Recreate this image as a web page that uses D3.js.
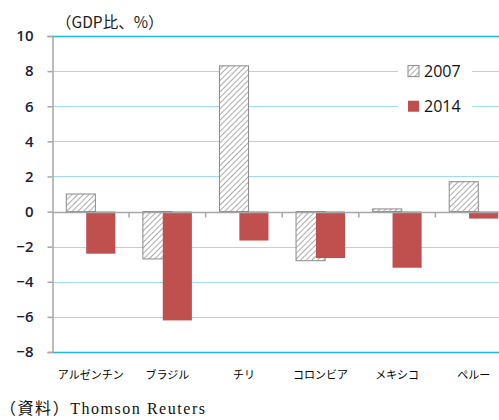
<!DOCTYPE html>
<html>
<head>
<meta charset="utf-8">
<script src="https://cdn.jsdelivr.net/npm/d3@7"></script>
<style>
  body { margin: 0; background: #fff; }
  svg { display: block; }
</style>
</head>
<body>
<svg id="chart" width="499" height="420"></svg>
<script>
var countries = ["アルゼンチン", "ブラジル", "チリ", "コロンビア", "メキシコ", "ペルー"];
var series2007 = [1.0, -2.7, 8.3, -2.8, 0.15, 1.7];
var series2014 = [-2.4, -6.2, -1.65, -2.65, -3.2, -0.4];
var yTicks = [10, 8, 6, 4, 2, 0, -2, -4, -6, -8];
var seriesNames = ["2007", "2014"];

var svg = d3.select("#chart");
var defs = svg.append("defs");

var hatch = defs.append("pattern")
    .attr("id", "hatch")
    .attr("patternUnits", "userSpaceOnUse")
    .attr("width", 4)
    .attr("height", 4)
    .attr("patternTransform", "rotate(45)");
hatch.append("rect").attr("width", 4).attr("height", 4).attr("fill", "#fff");
hatch.append("line")
    .attr("x1", 0).attr("y1", 0).attr("x2", 0).attr("y2", 4)
    .attr("stroke", "#7f7f7f").attr("stroke-width", 1.3);

var plotL = 52.5, plotR = 512, plotT = 36, plotB = 352;

var x = d3.scaleBand().domain(countries).range([plotL, plotR]).padding(0);
var y = d3.scaleLinear().domain([-8, 10]).range([plotB, plotT]);

var bw = x.bandwidth();
var barW = bw * 0.38;
var off = bw * 0.13;

// gridlines
svg.append("g").selectAll("line")
  .data(yTicks.filter(function(d) { return d !== 0; }))
  .enter().append("line")
    .attr("x1", plotL).attr("x2", plotR)
    .attr("y1", function(d) { return Math.round(y(d)) + 0.5; })
    .attr("y2", function(d) { return Math.round(y(d)) + 0.5; })
    .attr("stroke", function(d) { return (d === 10 || d === -8) ? "#1eb4ec" : "#9fdcf4"; })
    .attr("stroke-width", function(d) { return (d === 10 || d === -8) ? 1.6 : 1; });

// bars 2007
svg.append("g").selectAll("rect")
  .data(series2007)
  .enter().append("rect")
    .attr("x", function(d, i) { return x(countries[i]) + bw / 2 - off - barW / 2; })
    .attr("y", function(d) { return y(Math.max(0, d)); })
    .attr("width", barW)
    .attr("height", function(d) { return Math.abs(y(d) - y(0)); })
    .attr("fill", "url(#hatch)")
    .attr("stroke", "#8a8a8a")
    .attr("stroke-width", 1);

// bars 2014
svg.append("g").selectAll("rect")
  .data(series2014)
  .enter().append("rect")
    .attr("x", function(d, i) { return x(countries[i]) + bw / 2 + off - barW / 2; })
    .attr("y", function(d) { return y(Math.max(0, d)); })
    .attr("width", barW)
    .attr("height", function(d) { return Math.abs(y(d) - y(0)); })
    .attr("fill", "#c0504d");

// y axis
var yAxis = svg.append("g")
    .attr("transform", "translate(" + plotL + ",0)")
    .call(d3.axisLeft(y).tickValues(yTicks).tickSize(5).tickPadding(14).tickFormat(d3.format("d")));
yAxis.select(".domain").attr("stroke", "#a6a6a6").attr("stroke-width", 1.5);
yAxis.selectAll(".tick line").attr("stroke", "#a6a6a6").attr("stroke-width", 1.5);
yAxis.selectAll(".tick text")
    .attr("fill", "#1c1c3c")
    .style("font-family", "'Open Sans', sans-serif")
    .style("font-size", "15px")
    .style("font-weight", "600");

// zero line with ticks
var y0 = Math.round(y(0)) + 0.5;
svg.append("line")
    .attr("x1", plotL).attr("x2", plotR)
    .attr("y1", y0).attr("y2", y0)
    .attr("stroke", "#a6a6a6").attr("stroke-width", 1.5);
svg.append("g").selectAll("line")
  .data(countries.slice(1))
  .enter().append("line")
    .attr("x1", function(d) { return x(d); })
    .attr("x2", function(d) { return x(d); })
    .attr("y1", y0).attr("y2", y0 + 5)
    .attr("stroke", "#a6a6a6").attr("stroke-width", 1.5);

// category labels
svg.append("g").selectAll("text")
  .data(countries)
  .enter().append("text")
    .attr("x", function(d) { return x(d) + bw / 2; })
    .attr("y", 379)
    .attr("text-anchor", "middle")
    .style("font-family", "'Noto Sans CJK JP', sans-serif")
    .style("font-size", "11px")
    .attr("fill", "#000")
    .text(function(d) { return d; });

// legend
var legend = svg.append("g");
legend.append("rect")
    .attr("x", 398).attr("y", 56).attr("width", 74).attr("height", 66)
    .attr("fill", "#fff");
var legendRows = legend.selectAll("g")
  .data(seriesNames)
  .enter().append("g")
    .attr("transform", function(d, i) { return "translate(408," + (y(8) + i * (y(6) - y(8))) + ")"; });
legendRows.append("rect")
    .attr("x", 0).attr("y", -5.5).attr("width", 11).attr("height", 11)
    .attr("fill", function(d, i) { return i === 0 ? "url(#hatch)" : "#c0504d"; })
    .attr("stroke", function(d, i) { return i === 0 ? "#8a8a8a" : "none"; });
legendRows.append("text")
    .attr("x", 16).attr("y", 6)
    .style("font-family", "'Open Sans', sans-serif")
    .style("font-size", "16px")
    .attr("fill", "#111")
    .text(function(d) { return d; });

// unit label
svg.append("text")
    .attr("x", 56).attr("y", 28)
    .style("font-family", "'Noto Sans CJK JP', sans-serif")
    .style("font-size", "15.5px")
    .attr("fill", "#222")
    .text("（GDP比、%）");

// source
svg.append("text")
    .attr("x", 0).attr("y", 414)
    .attr("textLength", 205)
    .attr("lengthAdjust", "spacing")
    .style("font-family", "'Liberation Serif', 'Noto Sans CJK JP', serif")
    .style("font-size", "16px")
    .attr("fill", "#111")
    .text("（資料）Thomson Reuters");
</script>
</body>
</html>
